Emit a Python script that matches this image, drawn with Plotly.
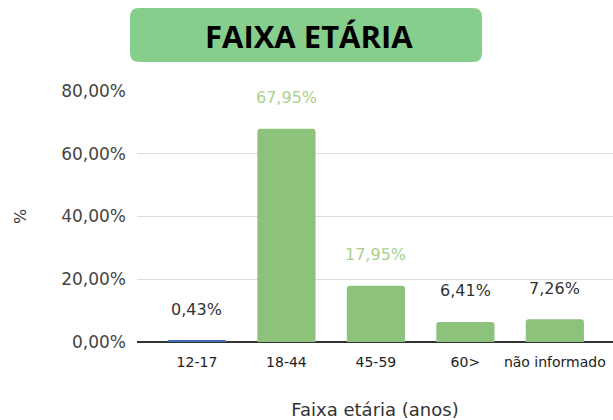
import plotly.graph_objects as go

categories = ["12-17", "18-44", "45-59", "60>", "não informado"]
values = [0.43, 67.95, 17.95, 6.41, 7.26]
bar_colors = ["#3D6DB5", "#8DC27C", "#8DC27C", "#8DC27C", "#8DC27C"]
label_colors = ["#333333", "#A9D18E", "#A9D18E", "#333333", "#333333"]
labels = [f"{v:.2f}%".replace(".", ",") for v in values]
yticks = [0, 20, 40, 60, 80]
yticktext = [f"{v:.2f}%".replace(".", ",") for v in yticks]

# plot area in pixels
L, T, W, H = 137, 91, 476, 251


def px2paper(x, y):
    return (x - L) / W, (T + H - y) / H


# rounded title box
bx0, by0, bx1, by1, r = 130, 8, 482, 62, 9
rx, ry = r / W, r / H
x0, y1 = px2paper(bx0, by0)
x1, y0 = px2paper(bx1, by1)
path = (f"M {x0+rx},{y1} L {x1-rx},{y1} Q {x1},{y1} {x1},{y1-ry} "
        f"L {x1},{y0+ry} Q {x1},{y0} {x1-rx},{y0} L {x0+rx},{y0} "
        f"Q {x0},{y0} {x0},{y0+ry} L {x0},{y1-ry} Q {x0},{y1} {x0+rx},{y1} Z")

fig = go.Figure()
fig.add_trace(go.Bar(
    x=categories, y=values, width=0.65,
    marker=dict(color=bar_colors, line=dict(width=0), cornerradius=3),
    hoverinfo="skip",
))

annotations = [dict(text="<b>FAIXA ETÁRIA</b>", xref="paper", yref="paper",
                    x=px2paper(309, 0)[0], y=px2paper(0, 36)[1],
                    xanchor="center", yanchor="middle", showarrow=False,
                    font=dict(family="Open Sans", size=31, color="black"))]
for c, v, lab, col in zip(categories, values, labels, label_colors):
    annotations.append(dict(x=c, y=v, xref="x", yref="y", text=lab,
                            showarrow=False, yshift=31, yanchor="middle",
                            font=dict(family="DejaVu Sans", size=16, color=col)))

fig.update_layout(
    width=613, height=420,
    margin=dict(l=L, r=613 - L - W, t=T, b=420 - T - H),
    paper_bgcolor="white", plot_bgcolor="white",
    showlegend=False,
    font=dict(family="DejaVu Sans", color="#333333"),
    shapes=[dict(type="path", xref="paper", yref="paper", path=path,
                 fillcolor="#86CE8C", line=dict(width=0), layer="below")],
    annotations=annotations,
)

fig.update_xaxes(
    range=[-0.67, 4.65], showgrid=False, showline=False, ticks="",
    ticklabelstandoff=10,
    tickfont=dict(family="DejaVu Sans", size=14, color="#222222"),
    title=dict(text="Faixa etária (anos)", font=dict(family="DejaVu Sans", size=18, color="#333333"), standoff=36),
)
fig.update_yaxes(
    range=[0, 80], tickvals=yticks, ticktext=yticktext,
    showgrid=True, gridcolor="#DDDDDD", gridwidth=1,
    zeroline=True, zerolinecolor="#333333", zerolinewidth=1.5,
    showline=False, ticks="", ticklabelstandoff=10,
    tickfont=dict(family="DejaVu Sans", size=17, color="#444444"),
    title=dict(text="%", font=dict(family="DejaVu Sans", size=16, color="#333333"), standoff=30),
)

fig.write_html("out.html")
